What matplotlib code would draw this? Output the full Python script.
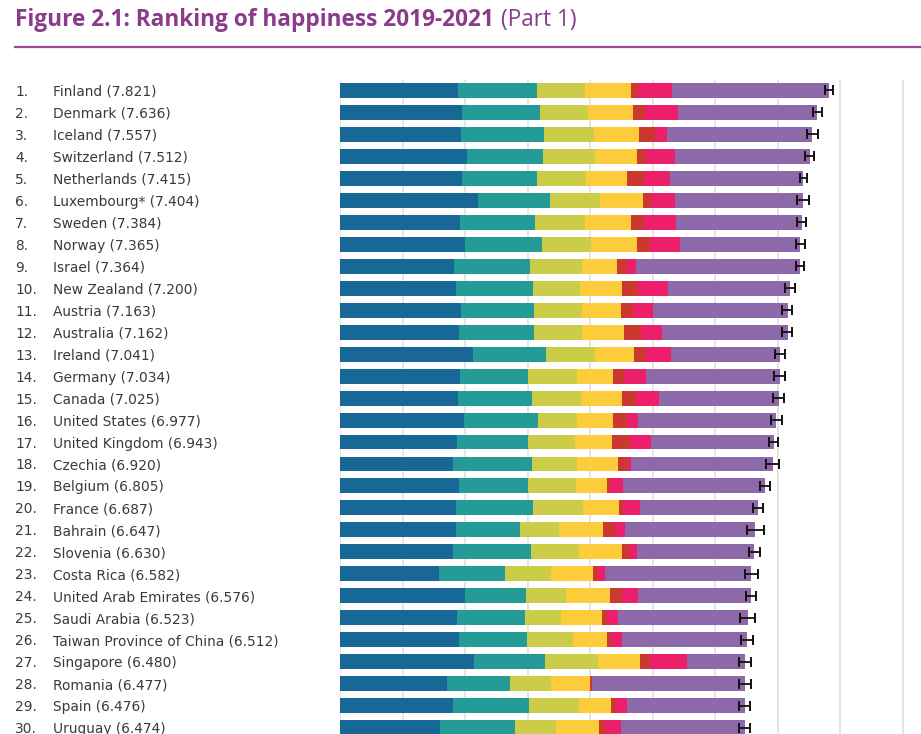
import numpy as np
import matplotlib
matplotlib.use('Agg')
import matplotlib.pyplot as plt
from matplotlib.lines import Line2D
from matplotlib.transforms import blended_transform_factory

countries = ['Finland', 'Denmark', 'Iceland', 'Switzerland', 'Netherlands',
             'Luxembourg*', 'Sweden', 'Norway', 'Israel', 'New Zealand',
             'Austria', 'Australia', 'Ireland', 'Germany', 'Canada',
             'United States', 'United Kingdom', 'Czechia', 'Belgium', 'France',
             'Bahrain', 'Slovenia', 'Costa Rica', 'United Arab Emirates', 'Saudi Arabia',
             'Taiwan Province of China', 'Singapore', 'Romania', 'Spain', 'Uruguay']
scores = [7.821, 7.636, 7.557, 7.512, 7.415, 7.404, 7.384, 7.365, 7.364, 7.200,
          7.163, 7.162, 7.041, 7.034, 7.025, 6.977, 6.943, 6.920, 6.805, 6.687,
          6.647, 6.630, 6.582, 6.576, 6.523, 6.512, 6.480, 6.477, 6.476, 6.474]

gdp = [1.892, 1.953, 1.936, 2.026, 1.945, 2.209, 1.920, 1.997, 1.826, 1.852,
       1.931, 1.900, 2.129, 1.924, 1.886, 1.982, 1.867, 1.815, 1.907, 1.863,
       1.854, 1.810, 1.584, 1.998, 1.870, 1.897, 2.149, 1.719, 1.808, 1.607]
social = [1.258, 1.243, 1.320, 1.226, 1.206, 1.155, 1.204, 1.239, 1.221, 1.235,
          1.165, 1.203, 1.166, 1.088, 1.188, 1.182, 1.143, 1.260, 1.106, 1.219,
          1.029, 1.249, 1.054, 0.980, 1.092, 1.095, 1.127, 1.006, 1.211, 1.187]
health = [0.775, 0.777, 0.803, 0.822, 0.787, 0.790, 0.803, 0.786, 0.818, 0.752,
          0.774, 0.772, 0.779, 0.776, 0.783, 0.628, 0.750, 0.715, 0.764, 0.808,
          0.625, 0.769, 0.744, 0.633, 0.577, 0.733, 0.851, 0.654, 0.808, 0.661]
freedom = [0.736, 0.719, 0.718, 0.677, 0.651, 0.700, 0.724, 0.728, 0.568, 0.680,
           0.623, 0.676, 0.627, 0.585, 0.659, 0.574, 0.597, 0.660, 0.492, 0.567,
           0.693, 0.685, 0.661, 0.702, 0.651, 0.542, 0.672, 0.628, 0.505, 0.685]
generosity = [0.109, 0.188, 0.270, 0.147, 0.271, 0.120, 0.218, 0.217, 0.155, 0.245,
              0.193, 0.258, 0.190, 0.163, 0.217, 0.220, 0.289, 0.158, 0.049, 0.070,
              0.199, 0.118, 0.089, 0.204, 0.080, 0.075, 0.163, 0.030, 0.091, 0.096]
corruption = [0.534, 0.532, 0.191, 0.461, 0.419, 0.388, 0.512, 0.474, 0.143, 0.483,
              0.329, 0.341, 0.408, 0.358, 0.368, 0.177, 0.329, 0.048, 0.204, 0.266,
              0.155, 0.115, 0.102, 0.250, 0.170, 0.168, 0.587, 0.002, 0.165, 0.256]
dystopia = [2.517, 2.224, 2.319, 2.153, 2.136, 2.042, 2.003, 1.924, 2.633, 1.953,
            2.148, 2.012, 1.742, 2.140, 1.924, 2.214, 1.968, 2.264, 2.283, 1.894,
            2.092, 1.884, 2.348, 1.809, 2.083, 2.002, 0.931, 2.438, 1.888, 1.982]

whisker_low = [7.756, 7.563, 7.464, 7.435, 7.354, 7.305, 7.310, 7.290, 7.303, 7.113,
               7.077, 7.077, 6.955, 6.940, 6.935, 6.888, 6.869, 6.808, 6.718, 6.600,
               6.517, 6.537, 6.472, 6.488, 6.395, 6.421, 6.390, 6.377, 6.390, 6.377]
whisker_high = [7.886, 7.709, 7.650, 7.589, 7.476, 7.503, 7.458, 7.440, 7.425, 7.287,
                7.227, 7.239, 7.115, 7.114, 7.100, 7.064, 7.015, 7.020, 6.885, 6.760,
                6.777, 6.712, 6.680, 6.655, 6.635, 6.603, 6.568, 6.576, 6.555, 6.560]

colors = ['#176797', '#259B97', '#CBCD49', '#FDCC3A', '#CB392E', '#EC1F6A', '#8E69AA']

W, H = 921, 734
fig = plt.figure(figsize=(W / 100, H / 100), dpi=100)
ax = fig.add_axes([340 / W, 0, 1 - 340 / W, 1 - 79.5 / H])

y = np.arange(len(countries))
parts = [gdp, social, health, freedom, generosity, corruption, dystopia]
left = np.zeros(len(countries))
for vals, c in zip(parts, colors):
    ax.barh(y, vals, left=left, height=0.68, color=c, zorder=2)
    left = left + np.array(vals)

err = [np.array(scores) - np.array(whisker_low), np.array(whisker_high) - np.array(scores)]
ax.errorbar(scores, y, xerr=err, fmt='none', ecolor='#111111', elinewidth=1.3,
            capsize=3.6, capthick=1.4, zorder=3)

for gx in range(0, 10):
    ax.axvline(gx, color='#E3E3E3', lw=1.3, zorder=1)

ax.set_xlim(0, (W - 340) / 62.5)
ax.set_ylim(29.29, -0.5)
ax.axis('off')

trans = blended_transform_factory(fig.transFigure, ax.transData)
txt_color = '#3A3A3A'
for i, name in enumerate(countries):
    ax.text(15 / W, i, f'{i + 1}.', transform=trans, ha='left', va='center_baseline',
            fontsize=9.9, color=txt_color, family='DejaVu Sans')
    ax.text(53 / W, i, f'{name} ({scores[i]:.3f})', transform=trans, ha='left',
            va='center_baseline', fontsize=9.9, color=txt_color, family='DejaVu Sans')

title_color = '#8B3A8C'
t1 = fig.text(15 / W, 1 - 20.5 / H, 'Figure 2.1: Ranking of happiness 2019-2021',
              fontsize=16.3, fontweight='bold', color=title_color, va='center',
              family='Open Sans')
fig.canvas.draw()
bb = t1.get_window_extent()
fig.text(bb.x1 / W + 7 / W, 1 - 20.5 / H, '(Part 1)', fontsize=16.3,
         color=title_color, va='center', family='Open Sans')

fig.add_artist(Line2D([15 / W, 1], [1 - 46.5 / H, 1 - 46.5 / H],
                      color='#9A4A97', lw=1.6))

fig.savefig('out.png', dpi=100)
